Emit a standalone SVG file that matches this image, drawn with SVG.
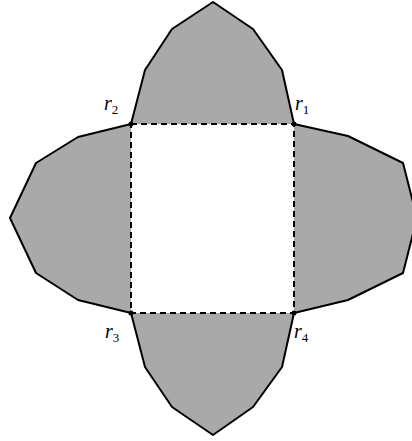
<svg xmlns="http://www.w3.org/2000/svg" width="412" height="441" viewBox="0 0 412 441">
<style>
.flap{fill:#a9a9a9;stroke:#000;stroke-width:2;stroke-linejoin:round}
.dash{fill:none;stroke:#000;stroke-width:2;stroke-dasharray:6,4}
.dot{fill:#000}
.lbl{font-family:"Liberation Serif","DejaVu Serif",serif;font-style:italic;font-size:20px;fill:#000}
.sub{font-style:normal;font-size:13px}
</style>
<rect width="412" height="441" fill="#fff"/>
<g id="flap-top"><polyline class="flap" points="294,124 282,70 253,29 213,2 172,29 145,70 131,124"/></g>
<g id="flap-left"><polyline class="flap" points="131,124 78,137 36,163 10,218 36,273 78,300 131,313"/></g>
<g id="flap-right"><polyline class="flap" points="294,124 348,136 403,163 417,218 403,273 348,300 294,313"/></g>
<g id="flap-bottom"><polyline class="flap" points="131,313 145,367 172,407 213,435 253,407 282,367 294,313"/></g>
<g id="square"><rect class="dash" x="131" y="124" width="163" height="189"/></g>
<g id="r1"><circle class="dot" cx="294" cy="124" r="2.5"/><text class="lbl" x="295" y="110">r<tspan class="sub" dy="4">1</tspan></text></g>
<g id="r2"><circle class="dot" cx="131" cy="124" r="2.5"/><text class="lbl" x="104" y="110">r<tspan class="sub" dy="4">2</tspan></text></g>
<g id="r3"><circle class="dot" cx="131" cy="313" r="2.5"/><text class="lbl" x="105" y="338">r<tspan class="sub" dy="4">3</tspan></text></g>
<g id="r4"><circle class="dot" cx="294" cy="313" r="2.5"/><text class="lbl" x="294" y="338">r<tspan class="sub" dy="4">4</tspan></text></g>
</svg>
